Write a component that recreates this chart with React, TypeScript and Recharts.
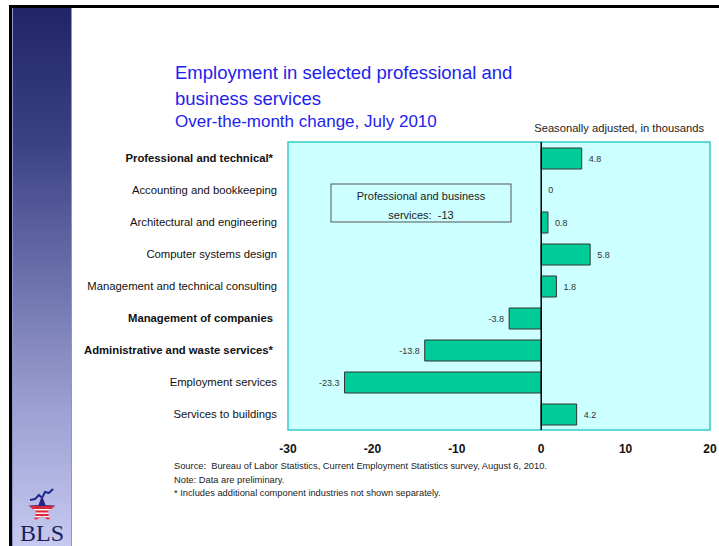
import React from "react";
import {
  BarChart,
  Bar,
  XAxis,
  YAxis,
  CartesianGrid,
  ReferenceArea,
  ReferenceLine,
  ReferenceDot,
  LabelList,
} from "recharts";

const categories = [
  "Professional and technical*",
  "Accounting and bookkeeping",
  "Architectural and engineering",
  "Computer systems design",
  "Management and technical consulting",
  "Management of companies",
  "Administrative and waste services*",
  "Employment services",
  "Services to buildings",
];
const boldRows = [true, false, false, false, false, true, true, false, false];
const changes = [4.8, 0, 0.8, 5.8, 1.8, -3.8, -13.8, -23.3, 4.2];
const xTicks = [-30, -20, -10, 0, 10, 20];

const titleLines = ["Employment in selected professional and", "business services"];
const subtitle = "Over-the-month change, July 2010";
const unitNote = "Seasonally adjusted, in thousands";
const boxLines = ["Professional and business", "services:\u00a0\u00a0-13"];
const notes = [
  "Source:\u00a0\u00a0Bureau of Labor Statistics, Current Employment Statistics survey, August 6, 2010.",
  "Note: Data are preliminary.",
  "* Includes additional component industries not shown separately.",
];

const data = categories.map((name, i) => ({ name, value: changes[i], bold: boldRows[i] }));

const FONT = "'Liberation Sans', Arial, sans-serif";

/** Category label, some rows bold */
function CategoryTick(props: any) {
  const { x, y, payload } = props;
  const bold = boldRows[payload.index];
  return (
    <text
      x={bold ? x - 7 : x - 3}
      y={y}
      dy={4}
      textAnchor="end"
      fontFamily={FONT}
      fontSize={bold ? 11.3 : 11.3}
      fontWeight={bold ? "bold" : "normal"}
      fill="#111"
    >
      {payload.value}
    </text>
  );
}

/** Value label beside the bar end */
function ValueLabel(props: any) {
  const { x, y, width, height, value } = props;
  const left = Math.min(x, x + width);
  const right = Math.max(x, x + width);
  const neg = value < 0;
  return (
    <text
      x={neg ? left - 5 : right + 7}
      y={y + height / 2}
      dy={3}
      textAnchor={neg ? "end" : "start"}
      fontFamily={FONT}
      fontSize={9}
      fill="#333"
    >
      {value}
    </text>
  );
}

function BlsLogo() {
  const cx = 42;
  const cy = 510;
  const pts: string[] = [];
  for (let i = 0; i < 10; i++) {
    const r = i % 2 === 0 ? 14 : 6;
    const a = -Math.PI / 2 + (i * Math.PI) / 5;
    pts.push(`${cx + r * Math.cos(a)},${cy + r * Math.sin(a)}`);
  }
  return (
    <g>
      <defs>
        <clipPath id="starClip">
          <polygon points={pts.join(" ")} />
        </clipPath>
      </defs>
      <polyline
        points="30,500 35,499 39,495 42,498 45,492 49,493 53,489"
        fill="none"
        stroke="#1d2a8a"
        strokeWidth={2}
      />
      <polygon points={pts.join(" ")} fill="#d8283a" />
      <g clipPath="url(#starClip)">
        <rect x={25} y={494} width={35} height={12} fill="#1d2a8a" />
        {[509, 512.5, 516, 519.5].map((yy) => (
          <rect key={yy} x={25} y={yy} width={35} height={1.4} fill="#fff" />
        ))}
      </g>
      <text
        x={42}
        y={541}
        textAnchor="middle"
        fontFamily="'Liberation Serif', 'Times New Roman', serif"
        fontSize={24}
        fill="#1a1f5e"
      >
        BLS
      </text>
    </g>
  );
}

export default function App() {
  return (
    <div
      style={{
        position: "absolute",
        left: 0,
        top: 0,
        width: 719,
        height: 546,
        background: "#fff",
        overflow: "hidden",
        fontFamily: FONT,
      }}
    >
      {/* page frame and side band */}
      <div style={{ position: "absolute", left: 9, top: 5, width: 710, height: 3, background: "#000" }} />
      <div style={{ position: "absolute", left: 9, top: 5, width: 3, height: 541, background: "#000" }} />
      <div
        style={{
          position: "absolute",
          left: 12,
          top: 8,
          width: 60,
          height: 538,
          background: "linear-gradient(to bottom, #1f2566 0%, #3b4284 25%, #6b70ab 50%, #9da1d3 75%, #c6c9f0 100%)",
          borderLeft: "1px solid #8f93c8",
          borderRight: "1px solid #8f93c8",
          boxSizing: "border-box",
        }}
      />

      <div style={{ position: "absolute", left: 0, top: 0 }}>
        <BarChart
          width={719}
          height={546}
          data={data}
          layout="vertical"
          margin={{ top: 142, right: 9, bottom: 86, left: 0 }}
          barSize={21}
        >
          <CartesianGrid horizontal={false} vertical={false} fill="#ccffff" fillOpacity={1} />
          <XAxis
            type="number"
            domain={[-30, 20]}
            ticks={xTicks}
            axisLine={false}
            tickLine={false}
            tickMargin={8}
            height={30}
            tick={{ fontFamily: FONT, fontSize: 12, fontWeight: "bold", fill: "#111" }}
          />
          <YAxis
            type="category"
            dataKey="name"
            width={288}
            axisLine={false}
            tickLine={false}
            interval={0}
            tick={<CategoryTick />}
          />
          <ReferenceArea x1={-30} x2={20} fill="none" fillOpacity={0} stroke="#33cccc" strokeWidth={1.5} ifOverflow="visible" />
          <Bar dataKey="value" fill="#00cc99" stroke="#333" strokeWidth={1} isAnimationActive={false}>
            <LabelList dataKey="value" content={<ValueLabel />} />
          </Bar>
          <ReferenceLine x={0} stroke="#000" strokeWidth={1.5} />
          {data
            .filter((d) => d.value === 0)
            .map((d) => (
              <ReferenceDot
                key={d.name}
                x={d.value}
                y={d.name}
                r={0}
                ifOverflow="visible"
                label={{ value: String(d.value), position: "right", offset: 7, fontSize: 9, fill: "#333", fontFamily: FONT }}
              />
            ))}
        </BarChart>
      </div>

      <svg
        width={719}
        height={546}
        style={{ position: "absolute", left: 0, top: 0, pointerEvents: "none" }}
      >
        {titleLines.map((t, i) => (
          <text key={t} x={175} y={79 + i * 26} fontFamily={FONT} fontSize={18.5} fill="#2222ee">
            {t}
          </text>
        ))}
        <text x={175} y={127} fontFamily={FONT} fontSize={17} fill="#2222ee">
          {subtitle}
        </text>
        <text x={704} y={132} textAnchor="end" fontFamily={FONT} fontSize={11.2} fill="#222">
          {unitNote}
        </text>

        <rect x={331} y={184} width={180} height={38} fill="#ccffff" stroke="#555" strokeWidth={1} />
        {boxLines.map((t, i) => (
          <text key={t} x={421} y={200 + i * 19} textAnchor="middle" fontFamily={FONT} fontSize={11} fill="#222">
            {t}
          </text>
        ))}

        {notes.map((t, i) => (
          <text key={t} x={174} y={469 + i * 13.5} fontFamily={FONT} fontSize={9.3} fill="#222">
            {t}
          </text>
        ))}

        <BlsLogo />
      </svg>
    </div>
  );
}
